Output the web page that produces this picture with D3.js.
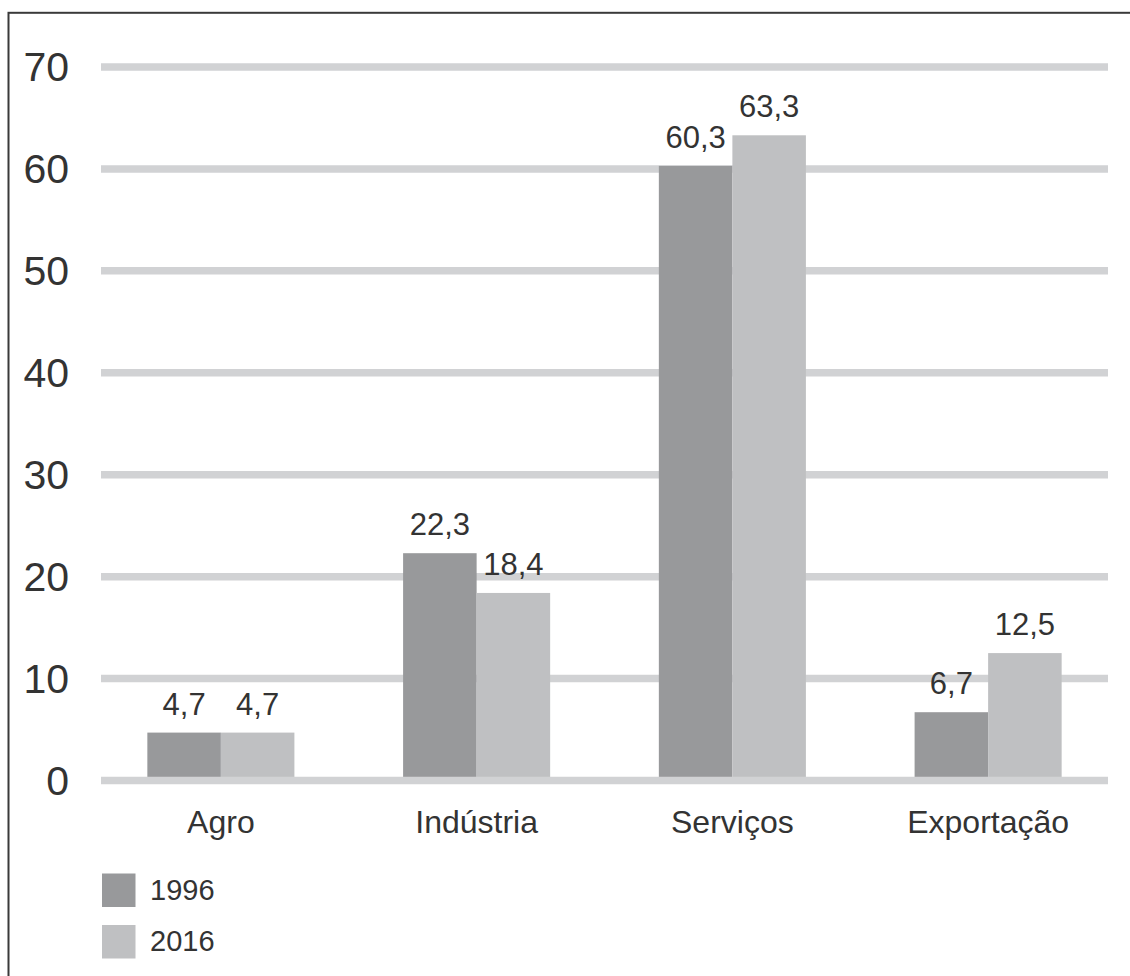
<!DOCTYPE html>
<html>
<head>
<meta charset="utf-8">
<script src="https://cdn.jsdelivr.net/npm/d3@7"></script>
<style>
  html, body { margin: 0; padding: 0; background: #fff; }
  svg { display: block; }
  text { font-family: "Liberation Sans", Arial, Helvetica, sans-serif; fill: #333; }
</style>
</head>
<body>
<svg id="chart" width="1130" height="976"></svg>
<script>
// Participação por setor (%), 1996 x 2016
const categories = ["Agro", "Indústria", "Serviços", "Exportação"];
const seriesNames = ["1996", "2016"];
const values1996 = [4.7, 22.3, 60.3, 6.7];
const values2016 = [4.7, 18.4, 63.3, 12.5];
const yTicks = [0, 10, 20, 30, 40, 50, 60, 70];
const labels1996 = ["4,7", "22,3", "60,3", "6,7"];
const labels2016 = ["4,7", "18,4", "63,3", "12,5"];

const colors = { "1996": "#98999b", "2016": "#bfc0c2" };
const gridColor = "#d1d2d4";

const svg = d3.select("#chart");

// Outer frame (only top and left edges fall inside the page)
svg.append("rect")
  .attr("x", 8.5).attr("y", 12.8)
  .attr("width", 1300).attr("height", 1200)
  .attr("fill", "none")
  .attr("stroke", "#3a3a3a")
  .attr("stroke-width", 2);

const y = d3.scaleLinear().domain([0, 70]).range([780.5, 67]);

const x0 = d3.scaleBand()
  .domain(categories)
  .range([93, 1116])
  .paddingInner(0.425)
  .paddingOuter(0.2125);

const x1 = d3.scaleBand()
  .domain(seriesNames)
  .range([0, x0.bandwidth()]);

const gridLeft = 101, gridRight = 1108;

// Gridlines behind the bars (baseline is drawn later, over the bars)
svg.append("g").selectAll("line")
  .data(yTicks.filter(t => t !== 0))
  .join("line")
  .attr("x1", gridLeft).attr("x2", gridRight)
  .attr("y1", d => y(d)).attr("y2", d => y(d))
  .attr("stroke", gridColor)
  .attr("stroke-width", 7.5);

// Tick labels
svg.append("g").selectAll("text")
  .data(yTicks)
  .join("text")
  .attr("x", 69)
  .attr("y", d => y(d))
  .attr("dy", "0.35em")
  .attr("text-anchor", "end")
  .attr("font-size", 41)
  .text(d => d);

const rows = categories.map((c, i) => ({
  category: c,
  bars: [
    { series: "1996", value: values1996[i], label: labels1996[i] },
    { series: "2016", value: values2016[i], label: labels2016[i] }
  ]
}));

const groups = svg.append("g").selectAll("g")
  .data(rows)
  .join("g")
  .attr("transform", d => `translate(${x0(d.category)},0)`);

groups.selectAll("rect")
  .data(d => d.bars)
  .join("rect")
  .attr("x", d => x1(d.series))
  .attr("width", x1.bandwidth())
  .attr("y", d => y(d.value))
  .attr("height", d => y(0) - y(d.value))
  .attr("fill", d => colors[d.series]);

groups.selectAll("text.value")
  .data(d => d.bars)
  .join("text")
  .attr("class", "value")
  .attr("x", d => x1(d.series) + x1.bandwidth() / 2)
  .attr("y", d => y(d.value) - 18)
  .attr("text-anchor", "middle")
  .attr("font-size", 31)
  .text(d => d.label);

// Zero baseline over the bar bottoms
svg.append("line")
  .attr("x1", gridLeft).attr("x2", gridRight)
  .attr("y1", y(0)).attr("y2", y(0))
  .attr("stroke", gridColor)
  .attr("stroke-width", 7.5);

// Category labels
svg.append("g").selectAll("text")
  .data(categories)
  .join("text")
  .attr("x", d => x0(d) + x0.bandwidth() / 2)
  .attr("y", 832.5)
  .attr("text-anchor", "middle")
  .attr("font-size", 32)
  .text(d => d);

// Legend
const legend = svg.append("g").selectAll("g")
  .data(seriesNames)
  .join("g")
  .attr("transform", (d, i) => `translate(102,${873.5 + i * 51.5})`);

legend.append("rect")
  .attr("width", 33.5).attr("height", 33.5)
  .attr("fill", d => colors[d]);

legend.append("text")
  .attr("x", 48)
  .attr("y", 26)
  .attr("font-size", 29)
  .text(d => d);
</script>
</body>
</html>
